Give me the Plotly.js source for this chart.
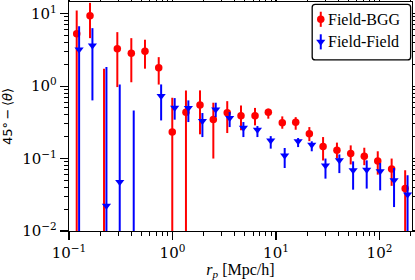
<!DOCTYPE html>
<html>
<head>
<meta charset="utf-8">
<script src="https://cdn.plot.ly/plotly-3.0.1.min.js"></script>
<style>html,body{margin:0;padding:0;background:#fff;}#chart{width:415px;height:280px;}</style>
</head>
<body>
<div id="chart"></div>
<script>
// ---- data ----
const seriesNames = ['Field-BGG', 'Field-Field'];
const rp = [0.1187, 0.1596, 0.218, 0.293, 0.400, 0.542, 0.736, 0.995, 1.349, 1.844, 2.48, 3.38, 4.59,
            6.27, 8.43, 11.5, 15.5, 21.0, 28.5, 38.8, 52.7, 71.3, 96.2, 131, 177];
// Field-BGG: value, upper bound, lower bound (0 = bar reaches below the axis; 0.001 = marker below axis)
const bggVal = [5.28, 9.35, 0.001, 3.28, 2.85, 3.04, 1.79, 0.232, 0.434, 0.547, 0.347, 0.43, 0.39,
                0.39, 0.434, 0.313, 0.316, 0.22, 0.147, 0.13, 0.117, 0.108, 0.0925, 0.0717, 0.0385];
const bggHi  = [11.1, 14.1, 1.74, 5.56, 4.59, 4.37, 2.51, 0.69, 0.873, 0.873, 0.59, 0.62, 0.54,
                0.50, 0.488, 0.382, 0.373, 0.272, 0.198, 0.166, 0.152, 0.141, 0.126, 0.1, 0.0687];
const bggLo  = [0, 4.59, 0, 0.97, 1.13, 1.74, 1.05, 0, 0, 0.216, 0.1, 0.225, 0.245,
                0.287, 0.355, 0.258, 0.25, 0.174, 0.094, 0.1, 0.083, 0.081, 0.06, 0.042, 0];
// Field-Field
const ffVal = [3.21, 3.64, 0.0224, 0.0474, 0.001, null, 0.728, 0.503, 0.497, 0.329, 0.477, 0.362, 0.267,
               0.25, 0.178, 0.11, 0.174, 0.155, 0.0805, 0.0944, 0.0687, 0.0703, 0.0666, 0.05, 0.032];
const ffHi  = [6.72, 6.31, 1.83, 1.055, 0.462, null, 1.055, 0.683, 0.635, 0.425, 0.59, 0.438, 0.319,
               0.281, 0.204, 0.14, 0.192, 0.173, 0.1, 0.114, 0.0915, 0.0944, 0.0867, 0.074, 0.0586];
const ffLo  = [0, 0.635, 0, 0, 0, null, 0.336, 0.344, 0.319, 0.198, 0.373, 0.272, 0.198,
               0.198, 0.137, 0.074, 0.144, 0.126, 0.0528, 0.063, 0.0372, 0.0385, 0.0364, 0.0214, 0];
const xTickVals = [0.1, 1, 10, 100];
const xTickText = ['10<sup>\u22121</sup>', '10<sup>0</sup>', '10<sup>1</sup>', '10<sup>2</sup>'];
const yTickVals = [0.01, 0.1, 1, 10];
const yTickText = ['10<sup>\u22122</sup>', '10<sup>\u22121</sup>', '10<sup>0</sup>', '10<sup>1</sup>'];

// ---- styling / construction ----
const ffShift = 1.055; // small horizontal offset of the second series
const RED = '#ff0000', BLUE = '#0000ff';

function minorVals(lo, hi) {
  const out = [];
  for (let e = lo; e <= hi; e++) for (let m = 2; m <= 9; m++) out.push(m * Math.pow(10, e));
  return out;
}
function plus(v, h) { return v.map((y, i) => (y == null ? null : h[i] - y)); }
function minus(v, l) { return v.map((y, i) => (y == null ? null : y - l[i])); }

const traces = [
  {
    x: rp, y: bggVal, name: seriesNames[0], type: 'scatter', mode: 'markers',
    marker: {symbol: 'circle', size: 7.5, color: RED},
    error_y: {type: 'data', symmetric: false, array: plus(bggVal, bggHi), arrayminus: minus(bggVal, bggLo),
              color: RED, thickness: 2, width: 0}
  },
  {
    x: rp.map(v => v * ffShift), y: ffVal, name: seriesNames[1], type: 'scatter', mode: 'markers',
    marker: {symbol: 'triangle-down', size: 8, color: BLUE},
    error_y: {type: 'data', symmetric: false, array: plus(ffVal, ffHi), arrayminus: minus(ffVal, ffLo),
              color: BLUE, thickness: 2, width: 0}
  },
  // legend keys (drawn on a hidden 0..1 overlay axis)
  {
    x: [0.734], y: [0.9245], xaxis: 'x2', yaxis: 'y2', type: 'scatter', mode: 'markers',
    marker: {symbol: 'circle', size: 7.5, color: RED}, hoverinfo: 'skip',
    error_y: {type: 'constant', value: 0.033, color: RED, thickness: 2, width: 0}
  },
  {
    x: [0.734], y: [0.826], xaxis: 'x2', yaxis: 'y2', type: 'scatter', mode: 'markers',
    marker: {symbol: 'triangle-down', size: 8, color: BLUE}, hoverinfo: 'skip',
    error_y: {type: 'constant', value: 0.033, color: BLUE, thickness: 2, width: 0}
  }
];

const axisCommon = {
  type: 'log', tickmode: 'array', ticks: 'outside', ticklen: 8, tickwidth: 1.2, tickcolor: '#000',
  showline: true, linecolor: '#000', linewidth: 1.2, mirror: 'allticks',
  showgrid: false, zeroline: false,
  tickfont: {family: 'DejaVu Serif', size: 15, color: '#000'}
};

const bx0 = 0.709, bx1 = 0.996, by0 = 0.747, by1 = 0.99, rx = 0.009, ry = 0.013;
const boxPath = `M${bx0 + rx},${by0} L${bx1 - rx},${by0} Q${bx1},${by0} ${bx1},${by0 + ry} ` +
  `L${bx1},${by1 - ry} Q${bx1},${by1} ${bx1 - rx},${by1} L${bx0 + rx},${by1} Q${bx0},${by1} ${bx0},${by1 - ry} ` +
  `L${bx0},${by0 + ry} Q${bx0},${by0} ${bx0 + rx},${by0} Z`;

const layout = {
  width: 415, height: 280,
  margin: {l: 69, r: 3, t: 2, b: 49, pad: 0},
  paper_bgcolor: '#fff', plot_bgcolor: '#fff',
  showlegend: false,
  font: {family: 'Liberation Serif', size: 16, color: '#000'},
  xaxis: Object.assign({}, axisCommon, {
    range: [-1, 2.314], tickvals: xTickVals, ticktext: xTickText,
    minor: {tickvals: minorVals(-1, 2), ticks: 'outside', ticklen: 4, tickwidth: 1, tickcolor: '#000', showgrid: false},
    title: {text: '<i>r</i><sub><i>p</i></sub> [Mpc/h]', font: {family: 'Liberation Serif', size: 16}, standoff: 3}
  }),
  yaxis: Object.assign({}, axisCommon, {
    range: [-2, 1.161], tickvals: yTickVals, ticktext: yTickText,
    minor: {tickvals: minorVals(-2, 1), ticks: 'outside', ticklen: 4, tickwidth: 1, tickcolor: '#000', showgrid: false},
    title: {text: '45\u00b0\u2009\u2212\u2009\u27e8<i>\u03b8</i>\u27e9', font: {family: 'DejaVu Sans', size: 13}, standoff: 10}
  }),
  xaxis2: {overlaying: 'x', range: [0, 1], visible: false, fixedrange: true},
  yaxis2: {overlaying: 'y', range: [0, 1], visible: false, fixedrange: true},
  shapes: [{type: 'path', xref: 'paper', yref: 'paper', path: boxPath,
            line: {color: '#000', width: 1.3}, fillcolor: 'rgba(0,0,0,0)', layer: 'above'}],
  annotations: [
    {xref: 'paper', yref: 'paper', x: 0.748, y: 0.9245, xanchor: 'left', yanchor: 'middle', showarrow: false,
     text: seriesNames[0], font: {family: 'Liberation Serif', size: 16, color: '#000'}},
    {xref: 'paper', yref: 'paper', x: 0.748, y: 0.826, xanchor: 'left', yanchor: 'middle', showarrow: false,
     text: seriesNames[1], font: {family: 'Liberation Serif', size: 16, color: '#000'}}
  ]
};

Plotly.newPlot('chart', traces, layout, {staticPlot: true, displayModeBar: false});
</script>
</body>
</html>
